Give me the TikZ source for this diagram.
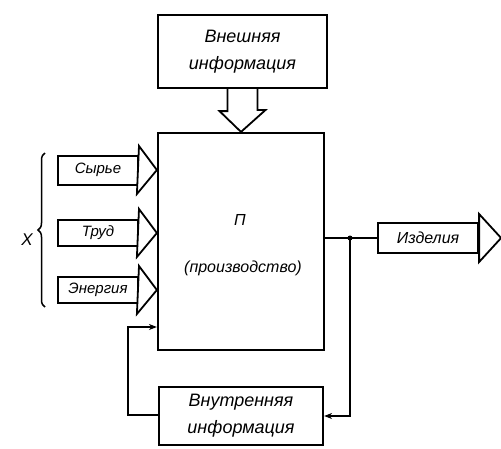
\documentclass[tikz,border=0pt]{standalone}
\usepackage{fontspec}
\setmainfont{Liberation Sans}
\usetikzlibrary{decorations.pathreplacing,arrows.meta}
\tikzset{
  box/.style={draw, line width=2.2pt, inner sep=0pt, align=center, font=\fontsize{16}{26}\selectfont\itshape},
  inbox/.style={box, line width=2pt, minimum width=80pt, font=\fontsize{15}{18}\selectfont\itshape},
  bigtxt/.style={font=\fontsize{18}{27}\selectfont\itshape},
  lbl/.style={inner sep=0pt, font=\fontsize{16}{18}\selectfont\itshape},
  head/.style={draw, line width=1.8pt, fill=white, line join=miter},
  wire/.style={draw, line width=1.8pt},
}
\begin{document}
\begin{tikzpicture}[x=1pt,y=-1pt]
\useasboundingbox (0,0) rectangle (501,448);
% boxes
\node[box, bigtxt, minimum width=169pt, minimum height=73pt] (ext) at (242.5,51.5) {Внешняя\\информация};
\node[box, minimum width=166pt, minimum height=217pt] (prod) at (241,241.5) {};
\node[lbl] (p) at (240,220) {П};
\node[lbl] (pt) at (243,268) {(производство)};
\node[inbox, minimum height=29pt] (s) at (98,170) {Сырье};
\node[inbox, minimum height=26pt] (t) at (98,233) {Труд};
\node[inbox, minimum height=26pt] (e) at (98,290) {Энергия};
\node[box, minimum width=100pt, minimum height=30pt] (out) at (428,238) {Изделия};
\node[box, bigtxt, minimum width=164pt, minimum height=58pt] (int) at (241,416) {Внутренняя\\информация};
\node[lbl, font=\fontsize{17}{18}\selectfont\itshape] (x) at (27,240) {X};
% hollow arrow from external info
\draw[head] ([xshift=-15pt]ext.south) -- ++(0,22) -- ++(-8,0) -- (prod.north) -- ([xshift=23pt]ext.south |- 0,110) -- ([xshift=15pt]ext.south |- 0,110) -- ([xshift=15pt]ext.south);
% input arrowheads
\foreach \n in {s,t,e}{
  \draw[head] (\n.east) ++(0,-24) -- (prod.west |- \n.east) -- ++(-20,24) -- cycle;
}
\draw[head] (out.east) ++(0,-24) -- ++(22,24) -- ++(-22,24) -- cycle;
% brace
\draw[line width=1.5pt, decorate, decoration={brace, amplitude=7pt, mirror}] (45,153) -- (45,307);
% output line and junction
\coordinate (j) at (350,238);
\draw[wire] (prod.east |- j) -- (j) -- (out.west);
\fill (j) circle (2.5pt);
% feedback right
\draw[wire, -{Stealth[length=8pt,width=6pt]}] (j) -- (350,416) -- (int.east |- 0,416);
% feedback left
\draw[wire, -{Stealth[length=8pt,width=6pt]}] (int.west |- 0,415) -- (128,415) -- (128,327) -- (prod.west |- 0,327);
\end{tikzpicture}
\end{document}
